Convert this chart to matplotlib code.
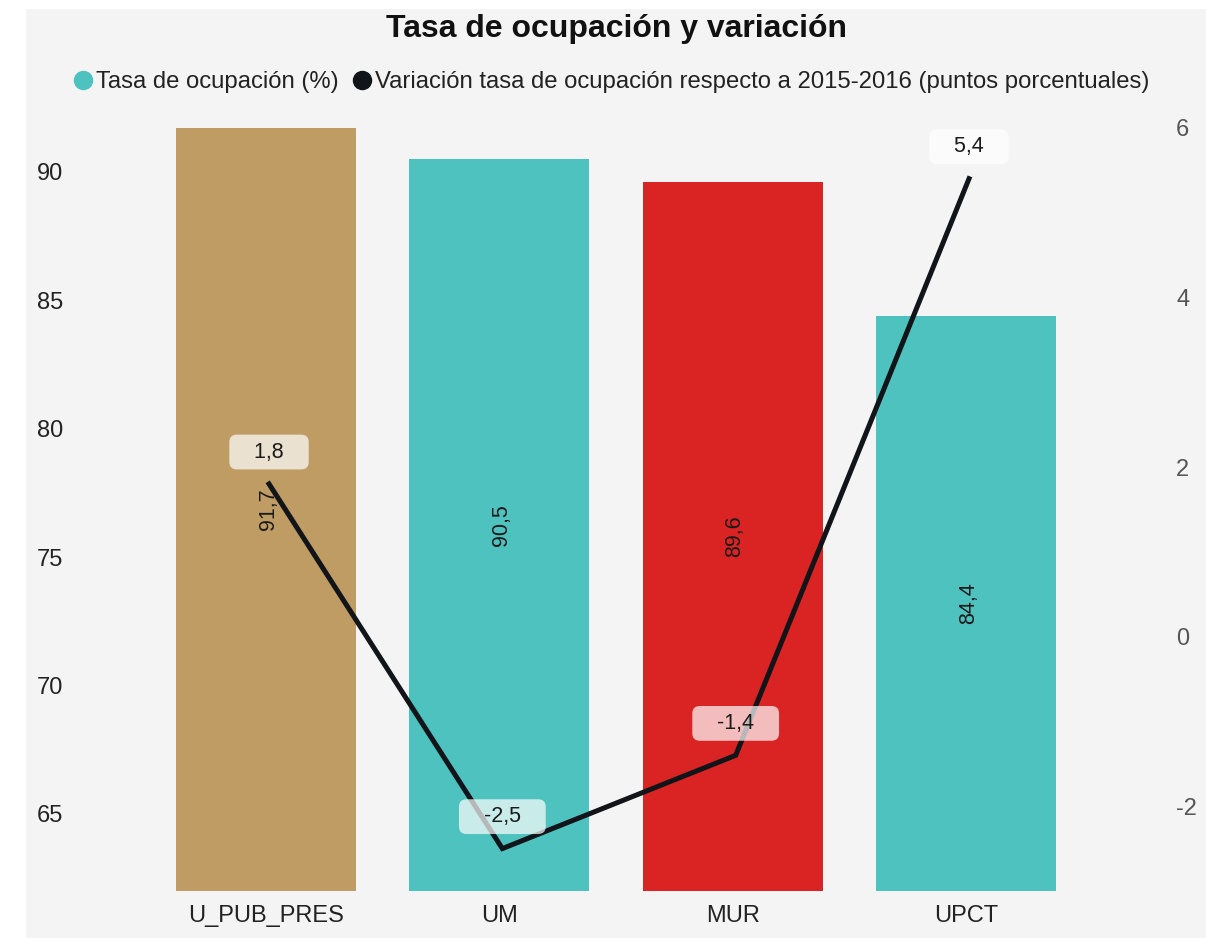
import matplotlib.pyplot as plt
from matplotlib.lines import Line2D
from matplotlib.patches import Rectangle

# Datos
universidades = ['U_PUB_PRES', 'UM', 'MUR', 'UPCT']
tasa_ocupacion = [91.7, 90.5, 89.6, 84.4]
variacion = [1.8, -2.5, -1.4, 5.4]
colores = ['#BE9C63', '#4DC2BF', '#DA2323', '#4DC2BF']

plt.rcParams['font.family'] = ['Liberation Sans', 'DejaVu Sans']
plt.rcParams['axes.unicode_minus'] = False

W, H = 1206, 938
fig = plt.figure(figsize=(W / 100, H / 100), dpi=100)
fig.patch.set_facecolor('white')
fig.add_artist(Rectangle((26 / W, 0), 1 - 26 / W, 1 - 9 / H, transform=fig.transFigure,
                         facecolor='#F4F4F4', edgecolor='none', zorder=-10))

ax = fig.add_axes([75 / W, 1 - 891 / H, (1165 - 75) / W, (891 - 110) / H])
ax.set_facecolor('none')
ax2 = ax.twinx()

x = list(range(len(universidades)))

# Barras: tasa de ocupación
ax.bar(x, [v - 62 for v in tasa_ocupacion], bottom=62, width=0.771,
       color=colores, zorder=1)
for xi, v in zip(x, tasa_ocupacion):
    ax.text(xi + 0.01, (62 + v) / 2, f'{v:.1f}'.replace('.', ','), rotation=90,
            ha='center', va='center', fontsize=15.5, color='#1a1a1a')

ax.set_xlim(-0.8186, 3.853)
ax.set_ylim(62, 92.41)
ax.set_yticks([65, 70, 75, 80, 85, 90])
ax.set_xticks(x)
ax.set_xticklabels(universidades)
ax.tick_params(axis='y', length=0, pad=8.6, labelsize=17, labelcolor='#222222')
ax.tick_params(axis='x', length=0, pad=10, labelsize=17, labelcolor='#222222')

# Línea: variación
xl = [xi + 0.013 for xi in x]
ax2.plot(xl, variacion, color='#111418', lw=3.6, solid_joinstyle='miter', zorder=3)
for xi, v in zip(xl, variacion):
    ax2.annotate(f'   {v:.1f}   '.replace('.', ','), (xi, v), xytext=(0, 23),
                 textcoords='offset points', ha='center', va='center',
                 fontsize=15.5, color='#1a1a1a', zorder=4,
                 bbox=dict(boxstyle='round,pad=0.32,rounding_size=0.35',
                           facecolor='white', edgecolor='none', alpha=0.7))
ax2.set_ylim(-3.0, 6.21)
ax2.set_yticks([-2, 0, 2, 4, 6])
ax2.tick_params(axis='y', length=0, pad=8, labelsize=17, labelcolor='#555555')

for a in (ax, ax2):
    for s in a.spines.values():
        s.set_visible(False)

fig.text(617 / W, 1 - 29 / H, 'Tasa de ocupación y variación', ha='center', va='center',
         fontsize=23, fontweight='bold', color='#111111')

handles = [
    Line2D([], [], ls='none', marker='o', ms=13, color='#4DC2BF'),
    Line2D([], [], ls='none', marker='o', ms=13, color='#111418'),
]
etiquetas = ['Tasa de ocupación (%)',
             'Variación tasa de ocupación respecto a 2015-2016 (puntos porcentuales)']
fig.legend(handles, etiquetas, loc='center', bbox_to_anchor=(613 / W, 1 - 82 / H),
           ncol=2, frameon=False, fontsize=17.2, handlelength=0.5, handletextpad=0.3,
           columnspacing=0.72, labelcolor='#222222')

fig.savefig('out.png', dpi=100)
